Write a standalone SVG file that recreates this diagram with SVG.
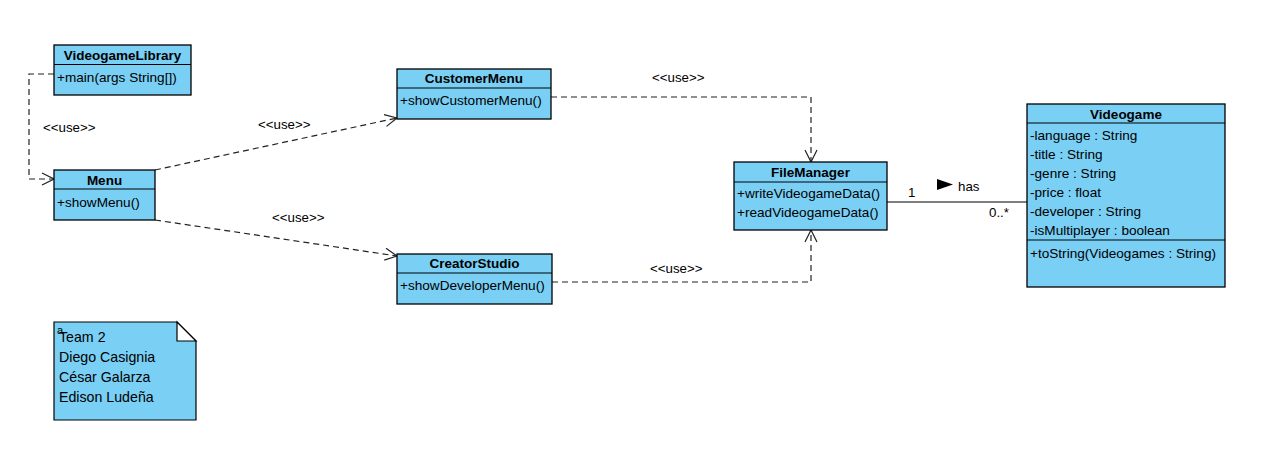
<svg xmlns="http://www.w3.org/2000/svg" width="1287" height="458" viewBox="0 0 1287 458">
<style>
.box{fill:#7acff5;stroke:#000;stroke-width:1.3}
.div{stroke:#000;stroke-width:1.2}
.t{font-family:"Liberation Sans",Arial,sans-serif;font-size:13.5px;font-weight:bold;text-anchor:middle;fill:#000}
.m{font-family:"Liberation Sans",Arial,sans-serif;font-size:13.6px;fill:#000}
.n{font-family:"Liberation Sans",Arial,sans-serif;font-size:14.2px;fill:#000}
.lbl{font-family:"Liberation Sans",Arial,sans-serif;font-size:13.3px;fill:#000}
.dep{fill:none;stroke:#222;stroke-width:1.2;stroke-dasharray:6,4;marker-end:url(#open)}
.assoc{fill:none;stroke:#000;stroke-width:1.2}
</style>
<defs>
<marker id="open" viewBox="0 0 14 14" refX="13" refY="7" markerWidth="14" markerHeight="14" markerUnits="userSpaceOnUse" orient="auto">
<path d="M1,1 L13,7 L1,13" fill="none" stroke="#222" stroke-width="1.2"/>
</marker>
</defs>
<rect width="1287" height="458" fill="#fff"/>
<g id="connectors">
<path class="dep" d="M54,74 H29 V179 H54"/>
<text class="lbl" x="43" y="132">&lt;&lt;use&gt;&gt;</text>
<path class="dep" d="M155,170 L397,118"/>
<text class="lbl" x="258" y="129">&lt;&lt;use&gt;&gt;</text>
<path class="dep" d="M155,220 L397,256"/>
<text class="lbl" x="272" y="222">&lt;&lt;use&gt;&gt;</text>
<path class="dep" d="M551,97 H811 V162"/>
<text class="lbl" x="652" y="82">&lt;&lt;use&gt;&gt;</text>
<path class="dep" d="M552,282 H811 V230"/>
<text class="lbl" x="650" y="273">&lt;&lt;use&gt;&gt;</text>
<path class="assoc" d="M887,202 H1027"/>
<text class="lbl" x="908" y="197">1</text>
<text class="lbl" x="989" y="217">0..*</text>
<polygon points="937,179 953,184.5 937,190" fill="#000"/>
<text class="lbl" x="958" y="191">has</text>
</g>
<g id="VideogameLibrary">
<rect class="box" x="54" y="45" width="137" height="50"/>
<line class="div" x1="54" y1="64.5" x2="191" y2="64.5"/>
<text class="t" x="122.5" y="60">VideogameLibrary</text>
<text class="m" x="57" y="82">+main(args String[])</text>
</g>
<g id="Menu">
<rect class="box" x="54" y="170" width="101" height="50"/>
<line class="div" x1="54" y1="189" x2="155" y2="189"/>
<text class="t" x="104.5" y="185">Menu</text>
<text class="m" x="57" y="207">+showMenu()</text>
</g>
<g id="CustomerMenu">
<rect class="box" x="397" y="69" width="154" height="50"/>
<line class="div" x1="397" y1="88" x2="551" y2="88"/>
<text class="t" x="474" y="83">CustomerMenu</text>
<text class="m" x="400" y="105">+showCustomerMenu()</text>
</g>
<g id="CreatorStudio">
<rect class="box" x="397" y="254" width="155" height="50"/>
<line class="div" x1="397" y1="273" x2="552" y2="273"/>
<text class="t" x="474.5" y="268">CreatorStudio</text>
<text class="m" x="400" y="290">+showDeveloperMenu()</text>
</g>
<g id="FileManager">
<rect class="box" x="734" y="162" width="153" height="68"/>
<line class="div" x1="734" y1="182" x2="887" y2="182"/>
<text class="t" x="810.5" y="177">FileManager</text>
<text class="m" x="737" y="198">+writeVideogameData()</text>
<text class="m" x="737" y="217">+readVideogameData()</text>
</g>
<g id="Videogame">
<rect class="box" x="1027" y="104" width="198" height="183"/>
<line class="div" x1="1027" y1="123" x2="1225" y2="123"/>
<line class="div" x1="1027" y1="240" x2="1225" y2="240"/>
<text class="t" x="1126" y="119">Videogame</text>
<text class="m" x="1030" y="140">-language : String</text>
<text class="m" x="1030" y="159">-title : String</text>
<text class="m" x="1030" y="178">-genre : String</text>
<text class="m" x="1030" y="197">-price : float</text>
<text class="m" x="1030" y="216">-developer : String</text>
<text class="m" x="1030" y="235">-isMultiplayer : boolean</text>
<text class="m" x="1030" y="258">+toString(Videogames : String)</text>
</g>
<g id="note">
<path d="M54,322 H177 L196,341 V420 H54 Z" fill="#7acff5" stroke="#000" stroke-width="1.2"/>
<path d="M177,322 V341 H196 Z" fill="#fff" stroke="#000" stroke-width="1.2"/>
<text class="m" x="57" y="334" style="font-size:11px">a</text>
<text class="n" x="59" y="342">Team 2</text>
<text class="n" x="59" y="362">Diego Casignia</text>
<text class="n" x="59" y="382">César Galarza</text>
<text class="n" x="59" y="402">Edison Ludeña</text>
</g>
</svg>
